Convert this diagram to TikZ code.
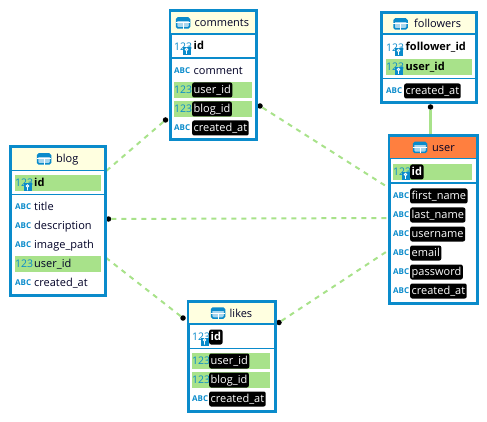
\documentclass[tikz,border=0pt]{standalone}
\usepackage{fontspec}
\setmainfont{Open Sans}
\definecolor{tblblue}{HTML}{0A8BCB}
\definecolor{fkgreen}{HTML}{A8E28A}
\definecolor{headcream}{HTML}{FFFFE0}
\definecolor{headorange}{HTML}{FF7F3F}
\tikzset{
  tblbox/.style={draw=tblblue,line width=3pt,fill=white,inner sep=0pt},
  tblhead/.style={draw=tblblue,line width=1.5pt,inner sep=0pt,fill=headcream},
  tblrule/.style={draw=tblblue,line width=1.5pt},
  tblicon/.style={draw=tblblue,fill=tblblue!35,line width=1.5pt,rounded corners=1.5pt,minimum width=13pt,minimum height=10pt,inner sep=0pt},
  tbltitle/.style={anchor=west,inner sep=0pt,font=\fontsize{11}{12}\selectfont,text=black!85!blue,text height=9pt,text depth=2pt},
  coltext/.style={anchor=west,inner sep=1.5pt,font=\fontsize{11}{12}\selectfont,text=black!85!blue,text height=9pt,text depth=2pt},
  colkey/.style={coltext,font=\fontsize{11}{12}\selectfont\bfseries,text=black},
  colblack/.style={coltext,fill=black,text=white,rounded corners=2pt,inner ysep=2pt},
  colblackkey/.style={colblack,font=\fontsize{11}{12}\selectfont\bfseries},
  fkband/.style={fill=fkgreen,inner sep=0pt,minimum height=16pt},
  abcicon/.style={anchor=west,inner sep=0pt,font=\fontsize{8}{9}\selectfont\bfseries,text=tblblue},
  numicon/.style={anchor=west,inner sep=0pt,font=\fontsize{10.5}{11}\selectfont,text=tblblue},
  keyicon/.style={fill=tblblue,inner sep=0pt,minimum size=8pt},
  fkdot/.style={circle,fill=black,inner sep=0pt,minimum size=5.5pt},
  fkline/.style={draw=fkgreen,line width=2pt,dash pattern=on 5pt off 5pt},
  fksolid/.style={draw=fkgreen,line width=2.5pt},
}
\newcommand{\AbcIcon}[3]{\node[abcicon] (#1) at (#2,#3) {ABC};}
\newcommand{\NumIcon}[3]{\node[numicon] (#1) at (#2,#3) {123};}
\newcommand{\KeyIcon}[3]{\NumIcon{#1}{#2}{#3}\node[keyicon] (#1key) at (#2+12.5,#3+4.5) {};
  \draw[white,line width=.8pt] ([yshift=1.5pt]#1key.center) circle (1.2pt) (#1key.center) -- ([yshift=-3pt]#1key.center);}
\newcommand{\TblIcon}[3]{%
  \node[tblicon] (#1) at (#2,#3) {};
  \draw[white,line width=1pt] (#1.west) -- (#1.east) (#1.center) -- (#1.south);
  \draw[tblblue,line width=2.5pt] ([xshift=1pt,yshift=-2.5pt]#1.north west) -- ([xshift=-1pt,yshift=-2.5pt]#1.north east);}
\begin{document}
\begin{tikzpicture}[x=1pt,y=-1pt]
\useasboundingbox (0,0) rectangle (487,422);
% links
\node[fkdot] (d-blogcomm) at (165.5,120) {};
\node[fkdot] (d-commuser) at (260,106) {};
\node[fkdot] (d-bloguser) at (108.5,219) {};
\node[fkdot] (d-bloglikes) at (183,318) {};
\node[fkdot] (d-likesuser) at (279,322.5) {};
\node[fkdot] (d-folluser) at (430.5,107) {};
\coordinate (c-blogcomm) at (105,172);
\coordinate (c-commuser) at (389,188);
\coordinate (c-bloguser) at (389,218);
\coordinate (c-bloglikes) at (105,257);
\coordinate (c-likesuser) at (389,250);
\coordinate (c-folluser) at (430.5,136);
\draw[fkline] (d-blogcomm) -- (c-blogcomm);
\draw[fkline] (d-commuser) -- (c-commuser);
\draw[fkline] (d-bloguser) -- (c-bloguser);
\draw[fkline] (d-bloglikes) -- (c-bloglikes);
\draw[fkline] (d-likesuser) -- (c-likesuser);
\draw[fksolid] (d-folluser) -- (c-folluser);
% comments
\node[tblbox,minimum width=86pt,minimum height=129pt] (comments) at (213,75.5) {};
\node[tblhead,minimum width=85pt,minimum height=23pt] (comments-h) at (213,22.5) {};
\TblIcon{comments-i}{183}{23}
\node[tbltitle] (comments-t) at (194.5,23) {comments};
\KeyIcon{comments-a}{174}{46.5}
\node[colkey] (comments-id) at (192,46.5) {id};
\draw[tblrule] (170,58) -- (256,58);
\AbcIcon{comments-b}{174}{71}
\node[coltext] (comments-c) at (192,71) {comment};
\node[fkband,minimum width=78pt] (comments-g1) at (213,90) {};
\node[fkband,minimum width=78pt] (comments-g2) at (213,109) {};
\NumIcon{comments-n1}{174}{89.5}
\node[colblack] (comments-u) at (192,90) {user\_id};
\NumIcon{comments-n2}{174}{108.5}
\node[colblack] (comments-bl) at (192,109) {blog\_id};
\AbcIcon{comments-d}{174}{127.5}
\node[colblack] (comments-at) at (192,128) {created\_at};
% followers
\node[tblbox,minimum width=95pt,minimum height=90pt] (followers) at (429,58) {};
\node[tblhead,minimum width=94pt,minimum height=21pt] (followers-h) at (429,23.5) {};
\TblIcon{followers-i}{400.5}{24}
\node[tbltitle] (followers-t) at (414,24) {followers};
\KeyIcon{followers-a}{386}{47.5}
\node[colkey] (followers-f) at (404,47.5) {follower\_id};
\node[fkband,minimum width=86pt] (followers-g) at (429,67) {};
\KeyIcon{followers-b}{386}{66.5}
\node[colkey] (followers-u) at (404,67) {user\_id};
\draw[tblrule] (382,78.5) -- (476,78.5);
\AbcIcon{followers-c}{386}{91}
\node[colblack] (followers-at) at (404,91) {created\_at};
% user
\node[tblbox,minimum width=88pt,minimum height=167pt] (user) at (433,219.5) {};
\node[tblhead,fill=headorange,minimum width=87pt,minimum height=22pt] (user-h) at (433,147.5) {};
\TblIcon{user-i}{420}{147.5}
\node[tbltitle] (user-t) at (432,148) {user};
\node[fkband,minimum width=79pt] (user-g) at (432.5,172) {};
\KeyIcon{user-a}{393}{171.5}
\node[colblackkey] (user-id) at (410,172) {id};
\draw[tblrule] (389,183) -- (477,183);
\AbcIcon{user-b}{393}{196}
\node[colblack] (user-fn) at (410,196) {first\_name};
\AbcIcon{user-c}{393}{215}
\node[colblack] (user-ln) at (410,215) {last\_name};
\AbcIcon{user-d}{393}{234}
\node[colblack] (user-un) at (410,234) {username};
\AbcIcon{user-e}{393}{253}
\node[colblack] (user-em) at (410,253) {email};
\AbcIcon{user-f}{393}{272}
\node[colblack] (user-pw) at (410,272) {password};
\AbcIcon{user-j}{393}{291}
\node[colblack] (user-at) at (410,291) {created\_at};
% blog
\node[tblbox,minimum width=95pt,minimum height=148pt] (blog) at (58,221) {};
\node[tblhead,minimum width=94pt,minimum height=23pt] (blog-h) at (58,159) {};
\TblIcon{blog-i}{44}{159}
\node[tbltitle] (blog-t) at (56,159.5) {blog};
\node[fkband,minimum width=86pt] (blog-g1) at (58,183) {};
\KeyIcon{blog-a}{15}{183}
\node[colkey] (blog-id) at (32.5,183) {id};
\draw[tblrule] (11,194.5) -- (105,194.5);
\AbcIcon{blog-b}{15}{207}
\node[coltext] (blog-tt) at (32.5,207) {title};
\AbcIcon{blog-c}{15}{226}
\node[coltext] (blog-de) at (32.5,226) {description};
\AbcIcon{blog-d}{15}{245}
\node[coltext] (blog-im) at (32.5,245) {image\_path};
\node[fkband,minimum width=86pt] (blog-g2) at (58,264) {};
\NumIcon{blog-n}{15}{263.5}
\node[coltext] (blog-u) at (32.5,264) {user\_id};
\AbcIcon{blog-e}{15}{283}
\node[coltext] (blog-at) at (32.5,283) {created\_at};
% likes
\node[tblbox,minimum width=87pt,minimum height=110pt] (likes) at (231.5,356) {};
\node[tblhead,minimum width=86pt,minimum height=22pt] (likes-h) at (231.5,313) {};
\TblIcon{likes-i}{218}{313}
\node[tbltitle] (likes-t) at (229.5,313.5) {likes};
\KeyIcon{likes-a}{192}{337}
\node[colblackkey] (likes-id) at (209,337) {id};
\draw[tblrule] (188,348.5) -- (275,348.5);
\node[fkband,minimum width=78pt] (likes-g1) at (231,361) {};
\node[fkband,minimum width=78pt] (likes-g2) at (231,380) {};
\NumIcon{likes-n1}{192}{360.5}
\node[colblack] (likes-u) at (209,361) {user\_id};
\NumIcon{likes-n2}{192}{379.5}
\node[colblack] (likes-bl) at (209,380) {blog\_id};
\AbcIcon{likes-b}{192}{399}
\node[colblack] (likes-at) at (209,399) {created\_at};
\end{tikzpicture}
\end{document}
